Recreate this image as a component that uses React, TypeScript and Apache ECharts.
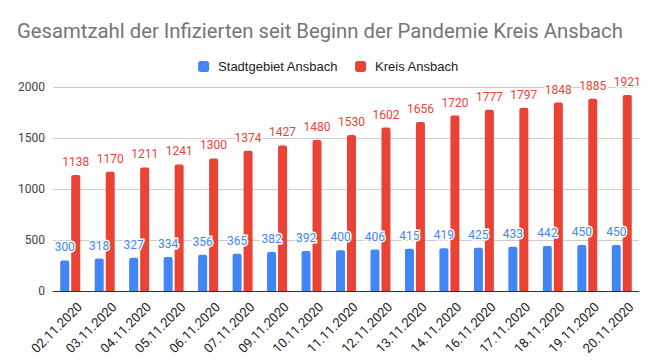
import React, { useEffect, useRef } from "react";
import * as echarts from "echarts";

const categories = ["02.11.2020","03.11.2020","04.11.2020","05.11.2020","06.11.2020","07.11.2020","09.11.2020","10.11.2020","11.11.2020","12.11.2020","13.11.2020","14.11.2020","16.11.2020","17.11.2020","18.11.2020","19.11.2020","20.11.2020"];
const stadt = [300,318,327,334,356,365,382,392,400,406,415,419,425,433,442,450,450];
const kreis = [1138,1170,1211,1241,1300,1374,1427,1480,1530,1602,1656,1720,1777,1797,1848,1885,1921];

export default function App() {
  const ref = useRef<HTMLDivElement>(null);
  useEffect(() => {
    const chart = echarts.init(ref.current!, null, { renderer: "svg" });
    const font = "Roboto, Arial, sans-serif";
    const label = (color: string) => ({
      show: true,
      position: "top" as const,
      distance: 7,
      color,
      fontSize: 12,
      fontFamily: font,
      textBorderColor: "#fff",
      textBorderWidth: 3,
    });
    chart.setOption({
      animation: false,
      backgroundColor: "#fff",
      textStyle: { fontFamily: font },
      title: {
        text: "Gesamtzahl der Infizierten seit Beginn der Pandemie Kreis Ansbach",
        left: 12,
        top: 16,
        textStyle: { color: "#757575", fontSize: 20.3, fontWeight: "normal", fontFamily: font },
      },
      legend: {
        top: 55,
        left: "center",
        itemWidth: 11,
        itemHeight: 11,
        itemGap: 17,
        icon: "roundRect",
        textStyle: {
          color: "#222",
          fontSize: 13,
          fontFamily: "'Liberation Sans', Arial, sans-serif",
          padding: [0, 0, 0, 4],
        },
        data: ["Stadtgebiet Ansbach", "Kreis Ansbach"],
      },
      grid: { left: 53, right: 18, top: 87, bottom: 73 },
      xAxis: {
        type: "category",
        data: categories,
        axisTick: { show: false },
        axisLine: { lineStyle: { color: "#333", width: 1 } },
        axisLabel: {
          rotate: 45,
          color: "#222",
          fontSize: 13,
          margin: 4,
          interval: 0,
          verticalAlign: "top",
          padding: [7, 0, 0, 0],
          fontFamily: font,
        },
      },
      yAxis: {
        type: "value",
        min: 0,
        max: 2000,
        interval: 500,
        axisLine: { show: false },
        axisTick: { show: false },
        axisLabel: { color: "#444", fontSize: 12, margin: 8, fontFamily: font, formatter: (v: number) => String(v) },
        splitLine: { lineStyle: { color: "#ccc" } },
      },
      series: [
        {
          name: "Stadtgebiet Ansbach",
          type: "bar",
          data: stadt,
          itemStyle: { color: "#4285F4", borderRadius: [2, 2, 0, 0] },
          barWidth: 9,
          barGap: "22%",
          label: label("#4285F4"),
        },
        {
          name: "Kreis Ansbach",
          type: "bar",
          data: kreis,
          itemStyle: { color: "#EA4335", borderRadius: [2, 2, 0, 0] },
          barWidth: 9,
          label: label("#EA4335"),
        },
      ],
    });
    return () => chart.dispose();
  }, []);
  return <div ref={ref} style={{ width: 657, height: 364, position: "absolute", left: 0, top: 0 }} />;
}
